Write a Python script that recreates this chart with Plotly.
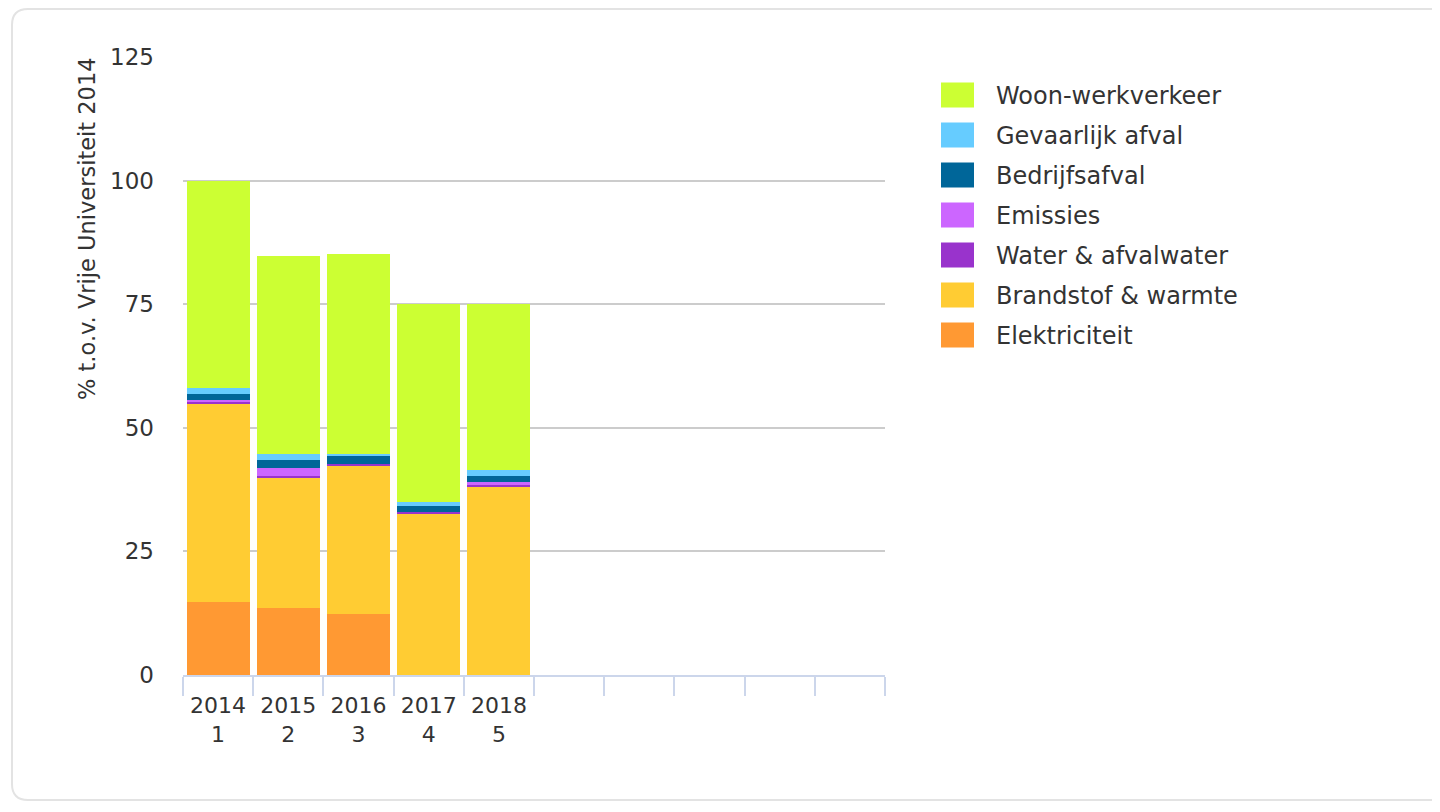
import plotly.graph_objects as go

# ---------------- data ----------------
years = ["2014", "2015", "2016", "2017", "2018"]
periods = ["1", "2", "3", "4", "5"]
n_slots = 10  # axis shows 10 category slots, only 5 filled

series_names = ["Elektriciteit", "Brandstof & warmte", "Water & afvalwater",
                "Emissies", "Bedrijfsafval", "Gevaarlijk afval", "Woon-werkverkeer"]
elektriciteit = [14.8, 13.6, 12.3, 0.0, 0.0]
brandstof = [40.0, 26.3, 30.0, 32.6, 38.2]
water = [0.6, 0.35, 0.4, 0.4, 0.4]
emissies = [0.2, 1.6, 0.0, 0.0, 0.4]
bedrijfsafval = [1.2, 1.6, 1.6, 1.2, 1.2]
gevaarlijk = [1.2, 1.2, 0.4, 0.8, 1.2]
woonwerk = [42.0, 40.1, 40.4, 40.0, 33.6]
series_values = [elektriciteit, brandstof, water, emissies, bedrijfsafval, gevaarlijk, woonwerk]
series_colors = ["#ff9933", "#ffcc33", "#9933cc", "#cc66ff", "#006699", "#66ccff", "#ccff33"]

y_ticks = [0, 25, 50, 75, 100, 125]
y_title = "% t.o.v. Vrije Universiteit 2014"

# ---------------- layout geometry (pixels) ----------------
W, H = 1440, 812
OFF = 8  # page body margin offsets the figure
PL, PR, PT, PB = 183 - OFF, 885 - OFF, 57 - OFF, 675 - OFF  # plot area edges
FONT = "DejaVu Sans"
TXT = "#333333"

def px_x(p):
    return (p - OFF - PL) / (PR - PL)

def px_y(p):
    return (PB - (p - OFF)) / (PB - PT)

xs = list(range(len(years)))
tick_vals = list(range(n_slots))
tick_text = [f"{y}<br>{p}" for y, p in zip(years, periods)] + [""] * (n_slots - len(years))

fig = go.Figure()
for name, vals, col in zip(series_names, series_values, series_colors):
    fig.add_trace(go.Bar(x=xs, y=vals, name=name, marker=dict(color=col, line=dict(width=0)),
                         showlegend=False))

shapes = []
annotations = []

# custom legend (top item = last series); coordinates are reference-page pixels
leg_x0, leg_x1, leg_text_x = 941, 974, 994
leg_y_first, leg_step, sym_h = 95, 40, 25
for i, (name, col) in enumerate(zip(series_names[::-1], series_colors[::-1])):
    cy = leg_y_first + i * leg_step
    shapes.append(dict(type="rect", xref="paper", yref="paper",
                       x0=px_x(leg_x0), x1=px_x(leg_x1),
                       y0=px_y(cy + sym_h / 2), y1=px_y(cy - sym_h / 2),
                       fillcolor=col, line=dict(width=0), layer="above"))
    annotations.append(dict(xref="paper", yref="paper", x=px_x(leg_text_x), y=px_y(cy + 1),
                            text=name, showarrow=False, xanchor="left", yanchor="middle",
                            font=dict(family=FONT, size=24, color=TXT)))

# y-axis title (top aligned)
annotations.append(dict(xref="paper", yref="paper", x=px_x(87), y=px_y(228),
                        text=y_title, textangle=-90, showarrow=False,
                        xanchor="center", yanchor="middle",
                        font=dict(family=FONT, size=22.5, color=TXT)))

# rounded outer border
bx0, bx1, by0, by1, r = 12, 1470, 9, 800, 16
def P(x, y):
    return f"{px_x(x):.5f},{px_y(y):.5f}"
path = (f"M{P(bx0 + r, by0)} L{P(bx1 - r, by0)} Q{P(bx1, by0)} {P(bx1, by0 + r)} "
        f"L{P(bx1, by1 - r)} Q{P(bx1, by1)} {P(bx1 - r, by1)} "
        f"L{P(bx0 + r, by1)} Q{P(bx0, by1)} {P(bx0, by1 - r)} "
        f"L{P(bx0, by0 + r)} Q{P(bx0, by0)} {P(bx0 + r, by0)} Z")
shapes.append(dict(type="path", xref="paper", yref="paper", path=path,
                   line=dict(color="#e3e3e3", width=2), fillcolor="rgba(0,0,0,0)", layer="below"))

fig.update_layout(
    width=W, height=H,
    margin=dict(l=PL, r=W - PR, t=PT, b=H - PB, pad=0),
    barmode="stack", bargap=0.1,
    plot_bgcolor="white", paper_bgcolor="white",
    font=dict(family=FONT, size=22, color=TXT),
    shapes=shapes, annotations=annotations,
    xaxis=dict(range=[-0.5, n_slots - 0.5], tickvals=tick_vals, ticktext=tick_text,
               ticks="", showgrid=False, zeroline=False,
               showline=True, linecolor="#ccd6eb", linewidth=2,
               minor=dict(ticks="outside", tick0=-0.5, dtick=1, ticklen=19,
                          tickcolor="#ccd6eb", tickwidth=2, showgrid=False),
               tickfont=dict(family=FONT, size=22, color=TXT),
               ticklabelstandoff=10, fixedrange=True),
    yaxis=dict(range=[0, 125], tickvals=y_ticks, ticks="", showline=False,
               gridcolor="#cccccc", gridwidth=2, zeroline=False,
               tickfont=dict(family=FONT, size=23, color=TXT),
               ticklabelstandoff=28, fixedrange=True),
)

fig.write_html("out.html")
